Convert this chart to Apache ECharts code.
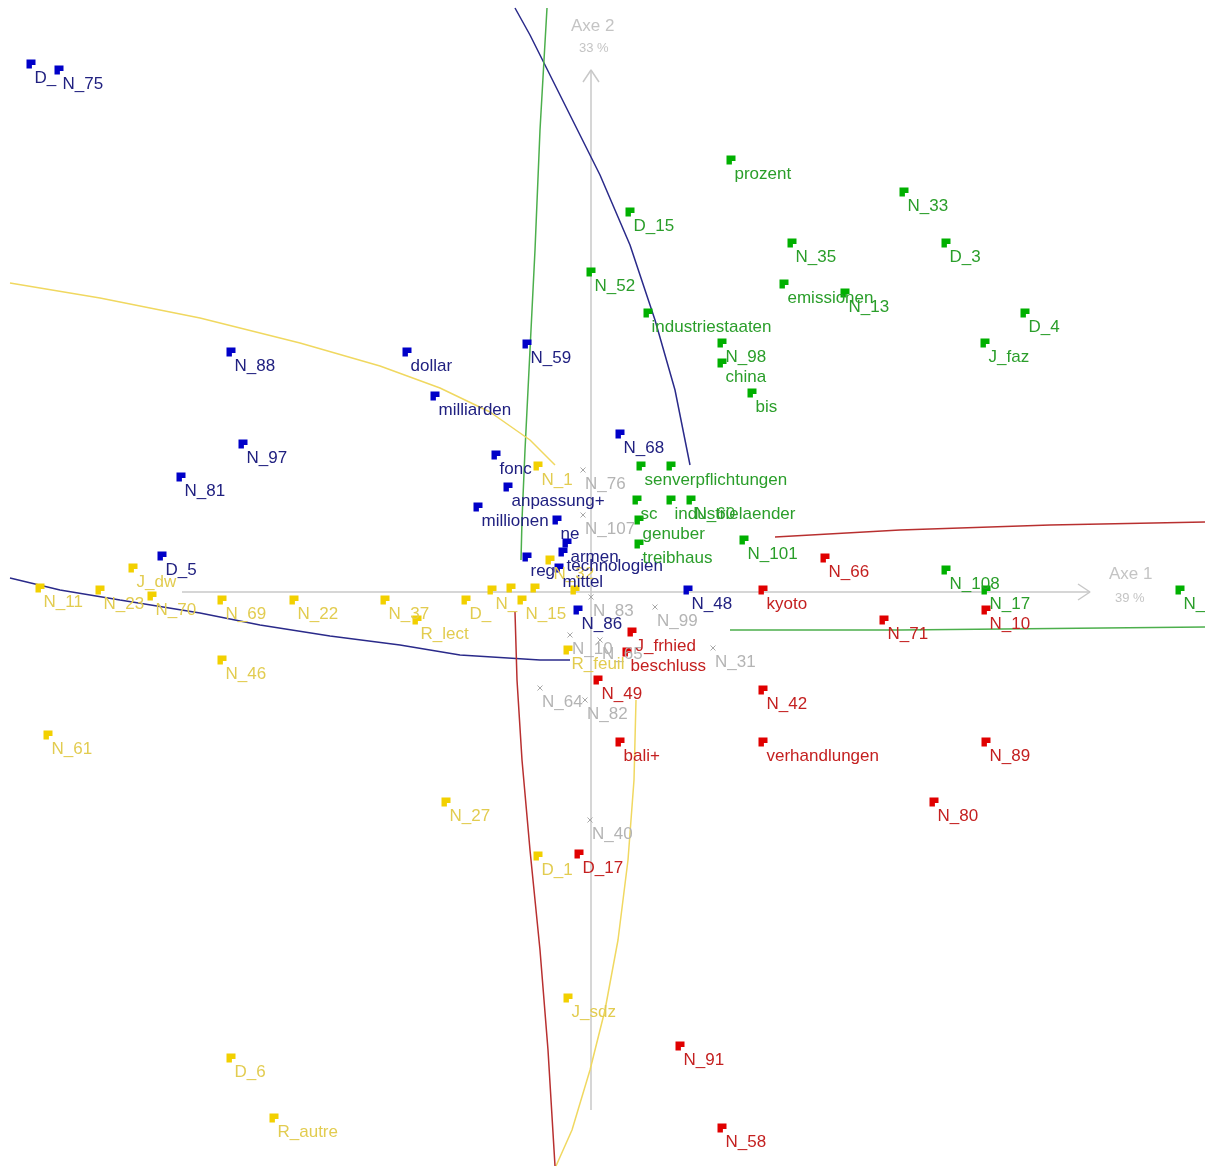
<!DOCTYPE html>
<html>
<head>
<meta charset="utf-8">
<script src="https://cdn.jsdelivr.net/npm/echarts@6/dist/echarts.min.js"></script>
<style>html,body{margin:0;padding:0;background:#fff}#main{width:1205px;height:1168px}</style>
</head>
<body>
<div id="main"></div>
<script>
// factor coordinates [axe1, axe2, label]
const bluePts = [
  [-1.40, 1.32, 'D_'], [-1.33, 1.305, 'N_75'], [-0.90, 0.60, 'N_88'], [-0.46, 0.60, 'dollar'],
  [-0.16, 0.62, 'N_59'], [-0.39, 0.49, 'milliarden'], [-0.87, 0.37, 'N_97'], [-1.025, 0.2875, 'N_81'],
  [-0.2375, 0.3425, 'fonc'], [-0.2075, 0.2625, 'anpassung+'], [-0.2825, 0.2125, 'millionen'],
  [0.0725, 0.395, 'N_68'], [-0.085, 0.18, 'ne'], [-0.06, 0.1225, 'armen'], [-0.07, 0.10, 'technologien'],
  [-0.16, 0.0875, 'reg'], [-1.0725, 0.09, 'D_5'], [-0.08, 0.06, 'mittel'], [-0.0325, -0.045, 'N_86'],
  [0.2425, 0.005, 'N_48']
];
const greenPts = [
  [0.35, 1.08, 'prozent'], [0.0975, 0.95, 'D_15'], [0.7825, 1.0, 'N_33'], [0.5025, 0.8725, 'N_35'],
  [0.8875, 0.8725, 'D_3'], [0.0, 0.80, 'N_52'], [0.4825, 0.77, 'emissionen'], [0.635, 0.7475, 'N_13'],
  [0.1425, 0.6975, 'industriestaaten'], [1.085, 0.6975, 'D_4'], [0.3275, 0.6225, 'N_98'],
  [0.985, 0.6225, 'J_faz'], [0.3275, 0.5725, 'china'], [0.4025, 0.4975, 'bis'],
  [0.125, 0.315, 'senverpflichtungen'], [0.20, 0.315, ''], [0.115, 0.23, 'sc'],
  [0.20, 0.23, 'industrielaender'], [0.25, 0.23, 'N_60'], [0.12, 0.18, 'genuber'],
  [0.12, 0.12, 'treibhaus'], [0.3825, 0.13, 'N_101'], [0.8875, 0.055, 'N_108'],
  [0.9875, 0.005, 'N_17'], [1.4725, 0.005, 'N_']
];
const redPts = [
  [0.585, 0.085, 'N_66'], [0.43, 0.005, 'kyoto'], [0.7325, -0.07, 'N_71'], [0.9875, -0.045, 'N_10'],
  [0.1025, -0.10, 'J_frhied'], [0.09, -0.15, 'beschluss'], [0.0175, -0.22, 'N_49'],
  [0.43, -0.245, 'N_42'], [0.0725, -0.375, 'bali+'], [0.43, -0.375, 'verhandlungen'],
  [0.9875, -0.375, 'N_89'], [0.8575, -0.525, 'N_80'], [-0.03, -0.655, 'D_17'],
  [0.2225, -1.135, 'N_91'], [0.3275, -1.34, 'N_58']
];
const yellowPts = [
  [-0.1325, 0.315, 'N_1'], [-1.145, 0.06, 'J_dw'], [-1.3775, 0.01, 'N_11'], [-1.2275, 0.005, 'N_23'],
  [-1.0975, -0.01, 'N_70'], [-0.9225, -0.02, 'N_69'], [-0.7425, -0.02, 'N_22'], [-0.515, -0.02, 'N_37'],
  [-0.435, -0.07, 'R_lect'], [-0.3125, -0.02, 'D_'], [-0.2475, 0.005, 'N_'], [-0.20, 0.01, ''],
  [-0.14, 0.01, ''], [-0.04, 0.005, ''], [-0.1725, -0.02, 'N_15'], [-0.1025, 0.08, 'N_32'],
  [-0.0575, -0.145, 'R_feuil'], [-0.9225, -0.17, 'N_46'], [-1.3575, -0.3575, 'N_61'],
  [-0.3625, -0.525, 'N_27'], [-0.1325, -0.66, 'D_1'], [-0.0575, -1.015, 'J_sdz'],
  [-0.90, -1.165, 'D_6'], [-0.7925, -1.315, 'R_autre']
];
const greyPts = [
  [-0.02, 0.305, 'N_76'], [-0.02, 0.1925, 'N_107'], [0.0, -0.0125, 'N_83'], [0.16, -0.0375, 'N_99'],
  [-0.0525, -0.1075, 'N_10'], [0.0225, -0.12, 'N_65'], [0.305, -0.14, 'N_31'],
  [-0.1275, -0.24, 'N_64'], [-0.015, -0.27, 'N_82'], [-0.0025, -0.57, 'N_40']
];

// curves (two branches per class)
const blueCurveA = [[-0.19,1.46],[-0.1525,1.3925],[-0.115,1.3175],[-0.0525,1.1925],[0.0225,1.0425],[0.0975,0.8675],[0.16,0.68],[0.21,0.505],[0.2475,0.3175]];
const blueCurveB = [[-1.4525,0.035],[-1.3275,0.005],[-1.1775,-0.02],[-0.9775,-0.0525],[-0.8275,-0.0825],[-0.6525,-0.11],[-0.4775,-0.1325],[-0.3275,-0.1575],[-0.1275,-0.17],[-0.0525,-0.17]];
const greenCurveA = [[-0.11,1.46],[-0.1175,1.33],[-0.1275,1.155],[-0.14,0.855],[-0.1525,0.605],[-0.165,0.355],[-0.1725,0.18],[-0.175,0.08]];
const greenCurveB = [[0.3475,-0.095],[0.7725,-0.095],[1.535,-0.0875]];
const yellowCurveA = [[-1.4525,0.7725],[-1.2275,0.735],[-0.9775,0.685],[-0.7275,0.6225],[-0.5275,0.565],[-0.3775,0.51],[-0.2525,0.45],[-0.1525,0.38],[-0.09,0.3175]];
const yellowCurveB = [[0.1125,-0.27],[0.1075,-0.47],[0.0925,-0.67],[0.0675,-0.87],[0.035,-1.045],[-0.0025,-1.195],[-0.0475,-1.345],[-0.0875,-1.435]];
const redCurveA = [[0.46,0.1375],[0.7725,0.155],[1.1475,0.1675],[1.535,0.175]];
const redCurveB = [[-0.19,-0.05],[-0.185,-0.22],[-0.1725,-0.42],[-0.1525,-0.645],[-0.1275,-0.895],[-0.1075,-1.145],[-0.09,-1.435]];

const axe1Line = [[-1.0225,0],[1.2475,0]];
const axe1Arrow = [[1.2175,0.02],[1.2475,0],[1.2175,-0.02]];
const axe2Line = [[0,1.305],[0,-1.295]];
const axe2Arrow = [[-0.02,1.275],[0,1.305],[0.02,1.275]];

const flag = 'path://M0,0H10V6H6V10H0Z';
const cross = 'path://M0,0L10,10M10,0L0,10';
const axisGrey = '#c8c8c8';

function line(data, color, w) {
  return { type: 'line', data: data, symbol: 'none', silent: true,
    lineStyle: { color: color, width: w || 1.5 }, z: 2 };
}
function pts(data, mark, text, symbol, size) {
  return {
    type: 'scatter', data: data, symbol: symbol, symbolSize: size, z: 5,
    itemStyle: { color: mark, borderColor: mark, borderWidth: symbol === cross ? 1 : 0, opacity: 1 },
    label: {
      show: true, position: 'right', distance: -1, offset: [0, 14],
      formatter: p => p.data[2], color: text,
      fontFamily: 'Liberation Sans, Arial, sans-serif', fontSize: 17
    }
  };
}

const chart = echarts.init(document.getElementById('main'));
chart.setOption({
  animation: false,
  backgroundColor: '#fff',
  grid: { left: 0, right: 0, top: 0, bottom: 0 },
  xAxis: { type: 'value', min: -1.4775, max: 1.535, show: false },
  yAxis: { type: 'value', min: -1.44, max: 1.48, show: false },
  graphic: [
    { type: 'text', left: 571, top: 18, style: { text: 'Axe 2', fill: '#c4c4c4', font: '17px Liberation Sans, Arial' } },
    { type: 'text', left: 579, top: 42, style: { text: '33 %', fill: '#c4c4c4', font: '13px Liberation Sans, Arial' } },
    { type: 'text', left: 1109, top: 566, style: { text: 'Axe 1', fill: '#c4c4c4', font: '17px Liberation Sans, Arial' } },
    { type: 'text', left: 1115, top: 592, style: { text: '39 %', fill: '#c4c4c4', font: '13px Liberation Sans, Arial' } }
  ],
  series: [
    line(axe1Line, axisGrey, 1.5), line(axe1Arrow, axisGrey, 1.5),
    line(axe2Line, axisGrey, 1.5), line(axe2Arrow, axisGrey, 1.5),
    line(blueCurveA, '#2a2a8a'), line(blueCurveB, '#2a2a8a'),
    line(greenCurveA, '#4caf4c'), line(greenCurveB, '#4caf4c'),
    line(yellowCurveA, '#f0d860'), line(yellowCurveB, '#f0d860'),
    line(redCurveA, '#b83030'), line(redCurveB, '#b83030'),
    pts(greyPts, '#a8a8a8', '#b4b4b4', cross, 5),
    pts(yellowPts, '#f2d000', '#e2cc50', flag, 9),
    pts(redPts, '#e00000', '#c42020', flag, 9),
    pts(bluePts, '#0000c8', '#202080', flag, 9),
    pts(greenPts, '#00b000', '#2a9e2a', flag, 9)
  ]
});
</script>
</body>
</html>
